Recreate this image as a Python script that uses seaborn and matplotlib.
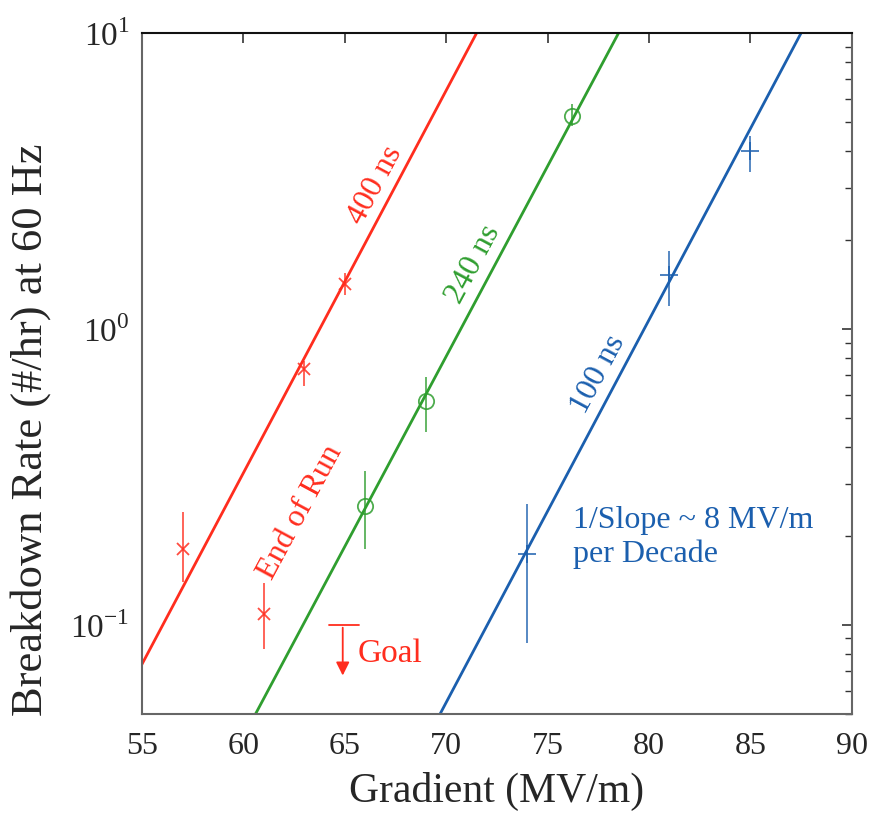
import numpy as np
import pandas as pd
import matplotlib
matplotlib.use("Agg")
import matplotlib.pyplot as plt
import seaborn as sns

# Breakdown rate data (gradient MV/m, rate #/hr, error bar low/high)
red_x = [57, 61, 63, 65]
red_y = [0.18, 0.109, 0.73, 1.42]
red_lo = [0.14, 0.083, 0.64, 1.30]
red_hi = [0.24, 0.139, 0.78, 1.55]

green_x = [66, 69, 76.2]
green_y = [0.252, 0.57, 5.24]
green_lo = [0.18, 0.45, 4.85]
green_hi = [0.33, 0.69, 5.76]

blue_x = [74, 81, 85]
blue_y = [0.174, 1.52, 3.99]
blue_lo = [0.087, 1.20, 3.40]
blue_hi = [0.256, 1.83, 4.50]

# fitted lines: gradient at the bottom / top of the rate range
fit_rates = [0.05, 10]
red_fit_x = [53.7, 71.5]
green_fit_x = [60.6, 78.5]
blue_fit_x = [69.7, 87.5]

goal_rate = 0.1
goal_x = [64.2, 65.7]
goal_arrow_x = 64.9
goal_arrow_end = 0.066

RED = "#ff2d1e"
GREEN = "#2f9e2f"
BLUE = "#1b5fae"

sns.set_style("white")
plt.rcParams["font.family"] = ["Liberation Serif", "DejaVu Serif"]
plt.rcParams["mathtext.fontset"] = "custom"
plt.rcParams["mathtext.rm"] = "Liberation Serif"

fig = plt.figure(figsize=(8.79, 8.38), dpi=100)
ax = fig.add_axes([0.1615, 0.148, 0.8075, 0.8125])

series = [
    (red_x, red_y, red_lo, red_hi, red_fit_x, RED, "x", 9),
    (green_x, green_y, green_lo, green_hi, green_fit_x, GREEN, "o", 11),
    (blue_x, blue_y, blue_lo, blue_hi, blue_fit_x, BLUE, "+", 13),
]
for xs, ys, lo, hi, fx, col, mk, ms in series:
    fit_df = pd.DataFrame({"x": fx, "y": fit_rates})
    sns.lineplot(data=fit_df, x="x", y="y", color=col, lw=2, ax=ax)
    ys = np.array(ys)
    yerr = [ys - np.array(lo), np.array(hi) - ys]
    ax.errorbar(xs, ys, yerr=yerr, fmt="none", ecolor=col, elinewidth=1.3, alpha=0.8)
    ax.plot(xs, ys, ls="none", marker=mk, ms=ms, mfc="none", mec=col, mew=1.3, alpha=0.85)

# goal marker
ax.plot(goal_x, [goal_rate, goal_rate], color=RED, lw=1.3)
ax.annotate("", xy=(goal_arrow_x, goal_arrow_end), xytext=(goal_arrow_x, goal_rate),
            arrowprops=dict(arrowstyle="-|>", color=RED, lw=1.3, mutation_scale=20))
ax.text(65.65, 0.080, "Goal", color=RED, fontsize=24, va="center", ha="left")

rot = 61.7
ax.text(66.5, 3.06, "400 ns", color=RED, fontsize=23, rotation=rot, ha="center", va="center")
ax.text(71.36, 1.66, "240 ns", color=GREEN, fontsize=23, rotation=rot, ha="center", va="center")
ax.text(77.52, 0.705, "100 ns", color=BLUE, fontsize=23, rotation=rot, ha="center", va="center")
ax.text(62.8, 0.24, "End of Run", color=RED, fontsize=23, rotation=rot, ha="center", va="center")
ax.text(76.25, 0.198, "1/Slope ~ 8 MV/m\nper Decade", color=BLUE, fontsize=23,
        ha="left", va="center", linespacing=1.2)

ax.set_yscale("log")
ax.set_xlim(55, 90)
ax.set_ylim(0.05, 10)
ax.set_xticks([55, 60, 65, 70, 75, 80, 85, 90])
ax.set_yticks([0.1, 1, 10])
ax.set_yticklabels([r"$10^{-1}$", r"$10^{0}$", r"$10^{1}$"])
ax.tick_params(axis="both", which="both", direction="in", top=True, right=True,
               color="#333333", labelsize=23)
ax.tick_params(axis="x", pad=13)
ax.tick_params(axis="y", pad=9, labelsize=24)
ax.tick_params(which="major", length=7, width=1.2)
ax.tick_params(which="minor", length=5, width=1.0)
for s in ax.spines.values():
    s.set_color("#666666")
    s.set_linewidth(1.5)
ax.spines["top"].set_color("#111111")

ax.set_xlabel("Gradient (MV/m)", fontsize=30, labelpad=8)
ax.set_ylabel("Breakdown Rate (#/hr) at 60 Hz", fontsize=32)
ax.yaxis.set_label_coords(-0.128, 0.417)

fig.savefig("out.png", dpi=100)
